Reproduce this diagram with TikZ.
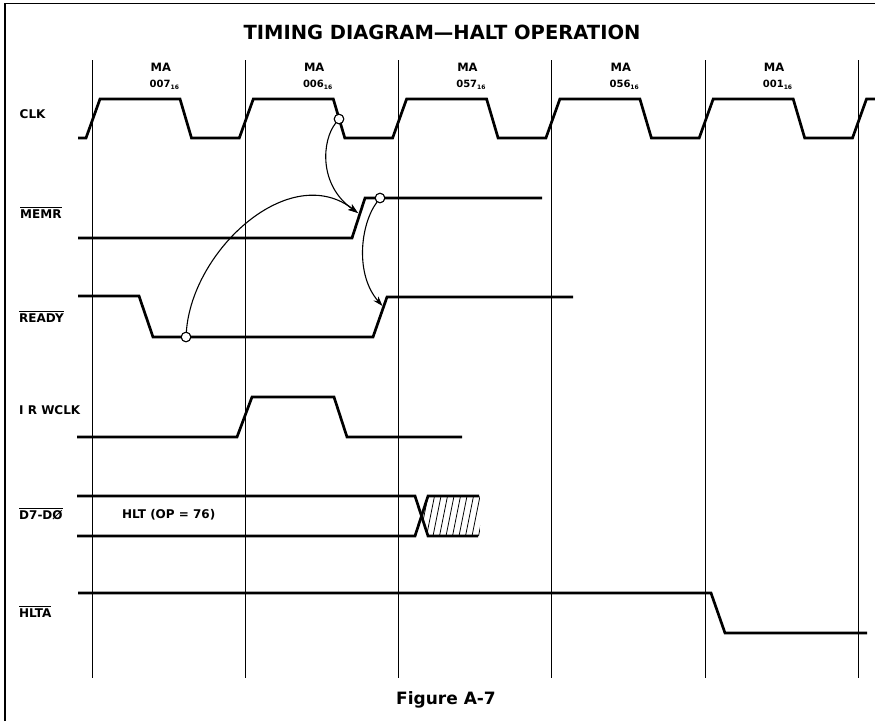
\documentclass[tikz,border=0pt]{standalone}
\usepackage{fontspec}
\setmainfont{DejaVu Sans}
\usetikzlibrary{arrows.meta}
\newcommand\ovl[1]{\vbox{\hrule height 0.9pt\kern1.4pt\hbox{#1}}}
\newcommand\sixteen{\raisebox{-0.35ex}{\fontsize{6}{7}\selectfont 16}}
\begin{document}
\begin{tikzpicture}[x=1pt,y=-1pt,
  wave/.style={line width=2.7pt},
  gridline/.style={line width=1pt},
  frameline/.style={line width=1.4pt},
  cause/.style={line width=1.1pt,-{Stealth[length=10pt,width=6.5pt]}},
  dotc/.style={circle,draw,line width=1pt,fill=white,inner sep=0pt,minimum size=9.5pt},
  siglabel/.style={anchor=west,inner sep=0pt,font=\bfseries\fontsize{12}{14}\selectfont},
  malabel/.style={anchor=west,inner sep=0pt,font=\bfseries\fontsize{11.5}{13}\selectfont},
  addrlabel/.style={anchor=west,inner sep=0pt,font=\bfseries\fontsize{10}{12}\selectfont},
  hatch/.style={line width=0.8pt}
]
\useasboundingbox (0,0) rectangle (875,721);
\clip (0,0) rectangle (875,721);

% frame
\draw[frameline] (5,721) -- (5,3.5) -- (875,3.5);

% title
\node[font=\bfseries\fontsize{19.5}{22}\selectfont] (title) at (442,32) {TIMING DIAGRAM—HALT OPERATION};

% grid lines
\foreach \g in {92,245.3,398.6,551.9,705.2,858.5}
  \draw[gridline] (\g,60) -- (\g,678);

% MA labels
\foreach \g/\a [count=\i] in {92/007,245.3/006,398.6/057,551.9/056,705.2/001} {
  \node[malabel] (ma\i) at (\g+58.5,67) {MA};
  \node[addrlabel] (ad\i) at (\g+57.5,85) {\a\sixteen};
}

% signal labels
\node[siglabel] (lclk) at (19.5,114) {CLK};
\node[siglabel] (lmemr) at (20,213) {\ovl{MEMR}};
\node[siglabel] (lready) at (19,316.5) {\ovl{READY}};
\node[siglabel] (lirw) at (19,410) {I R WCLK};
\node[siglabel] (ldata) at (19,514) {\ovl{D7-DØ}};
\node[siglabel] (lhlta) at (19,612) {\ovl{HLTA}};
\node[siglabel] (lhlt) at (122,515) {HLT (OP = 76)};

% CLK
\draw[wave] (78,138)
  \foreach \g in {92,245.3,398.6,551.9,705.2} { -- (\g-6,138) -- (\g+8,99) -- (\g+88,99) -- (\g+99.5,138) }
  -- (852.5,138) -- (866.5,99) -- (880,99);

% MEMR
\draw[wave] (78,238) -- (352,238) -- (365,198) -- (542,198);
% READY
\draw[wave] (78,296) -- (139,296) -- (153,337) -- (373,337) -- (387,297) -- (573,297);
% IRWCLK
\draw[wave] (77,437) -- (237,437) -- (252,397) -- (334,397) -- (347,437) -- (462,437);
% D7-D0
\draw[wave] (77,496) -- (415,496) -- (428,536) -- (478,536);
\draw[wave] (77,536) -- (415,536) -- (428,496) -- (479,496);
\begin{scope}
  \clip (421.5,516) -- (428,496) -- (480,496) -- (480,536) -- (428,536) -- cycle;
  \foreach \i in {0,...,9}
    \draw[hatch] (420+\i*6.5,536) -- (428+\i*6.5,496);
\end{scope}
% HLTA
\draw[wave] (78,593) -- (711,593) -- (725,633) -- (867,633);

% cause-effect circles and arrows
\coordinate (tipm) at (358,213);
\coordinate (tipr) at (382.5,306);
\node[dotc] (c1) at (339,119) {};
\node[dotc] (c2) at (380,198) {};
\node[dotc] (c3) at (186,337) {};
\draw[cause] (c1) .. controls (322,140) and (318,185) .. (tipm);
\draw[cause] (c3) .. controls (192,250) and (290,160) .. (tipm);
\draw[cause] (c2) .. controls (360,225) and (355,275) .. (tipr);
\node[dotc] at (c1) {};
\node[dotc] at (c2) {};
\node[dotc] at (c3) {};

% caption
\node[font=\bfseries\fontsize{17}{20}\selectfont] (cap) at (446,700) {Figure A-7};
\end{tikzpicture}
\end{document}
